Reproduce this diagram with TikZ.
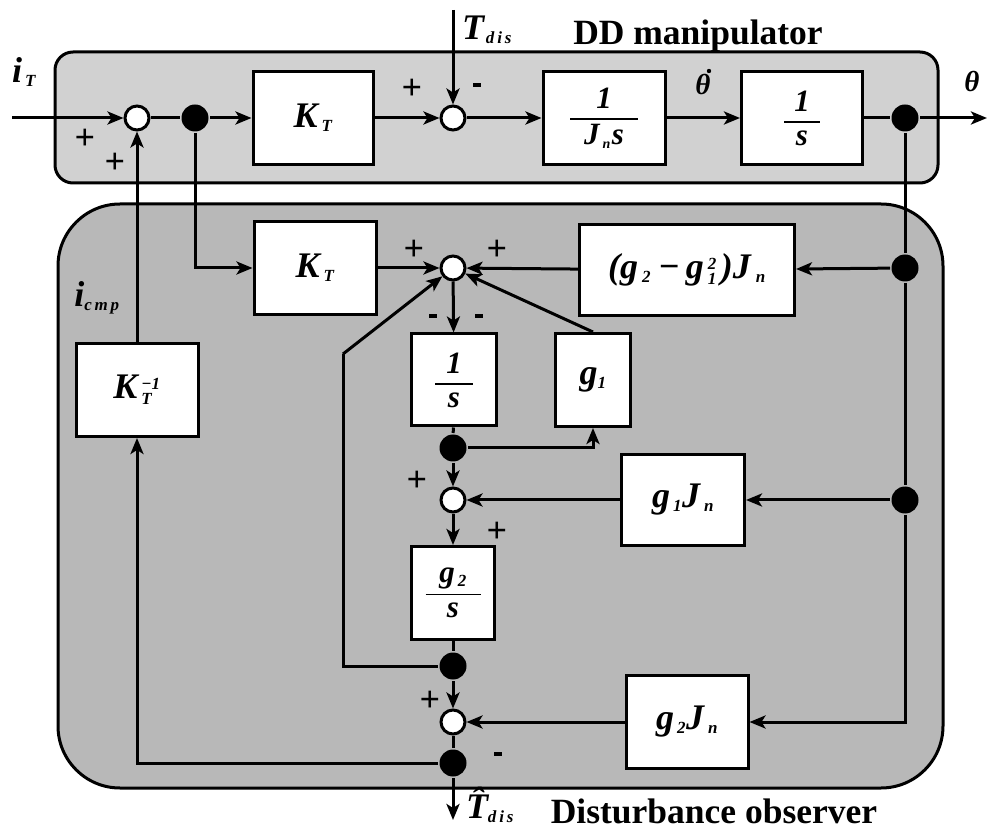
\documentclass[tikz,border=0pt]{standalone}
\usepackage{amsmath}
\usepackage{fontspec}
\setmainfont{Liberation Serif}
\usetikzlibrary{arrows.meta,calc}

% small lowered / raised indices in the running text font
\newcommand{\sbs}[2][17]{\ensuremath{_{\mbox{\fontsize{#1}{#1}\selectfont #2}}}}
\newcommand{\sps}[3][17]{\ensuremath{^{\mbox{\fontsize{#1}{#1}\selectfont #2}}_{\mbox{\fontsize{#1}{#1}\selectfont #3}}}}
% fraction with a fixed-width bar
\newcommand{\frc}[3]{\ensuremath{\genfrac{}{}{1.6pt}{0}{\hbox to #1{\hss\mbox{#2}\hss}}{\mbox{#3}}}}

\begin{document}
\begin{tikzpicture}[x=1pt,y=-1pt,
  line width=3pt,
  every node/.style={font=\fontsize{36}{38}\selectfont\bfseries\itshape},
  blk/.style={draw, fill=white, inner sep=0pt, line width=3pt},
  sumc/.style={circle, draw, fill=white, minimum size=24pt, inner sep=0pt, line width=3pt},
  jdot/.style={circle, fill=black, minimum size=27pt, inner sep=0pt},
  sig/.style={-{Stealth[length=16pt,width=13pt,inset=4pt]}},
  sgn/.style={font=\fontsize{36}{36}\selectfont\bfseries, inner sep=0pt},
  neg/.style={inner sep=0pt},
  frac/.style={font=\fontsize{31}{33}\selectfont\bfseries\itshape},
  title/.style={font=\fontsize{35.5}{38}\selectfont\bfseries, anchor=base},
]
\useasboundingbox (0,0) rectangle (989,834);

% panels
\draw[line width=3pt, fill=black!18, rounded corners=18pt] (55,52) rectangle (938,183);
\draw[line width=3pt, fill=black!28, rounded corners=62pt] (58,204) rectangle (943,788);

% ---- plant (upper panel)
\coordinate (in)   at (12,118);
\coordinate (out)  at (987,118);
\coordinate (tdin) at (453,10);
\node[sumc] (s1) at (137,118) {};
\node[jdot] (d1) at (195,118) {};
\node[blk, minimum width=120pt, minimum height=93pt] (kt1) at (313,118) {K\hspace{4pt}\sbs{T}};
\node[sumc] (s2) at (453,118) {};
\node[blk, minimum width=122pt, minimum height=93pt, frac] (jn) at (604,118) {\frc{68pt}{1}{J\hspace{3pt}\sbs[14]{n}\hspace{1pt}s}};
\node[blk, minimum width=121pt, minimum height=93pt, frac] (ig) at (802,118) {\frc{36pt}{1}{s}};
\node[jdot] (d2) at (905,118) {};

% ---- observer (lower panel)
\node[blk, minimum width=122pt, minimum height=93pt] (kt2) at (315,268) {K\hspace{4pt}\sbs{T}};
\node[blk, minimum width=122pt, minimum height=93pt] (kti) at (137,390) {K\hspace{4pt}\sps{\textminus1}{T}};
\node[sumc] (s3) at (453,268) {};
\node[blk, minimum width=215pt, minimum height=91pt] (g21) at (687,270) {(g\hspace{4pt}\sbs{2}\hspace{7pt}\textminus\hspace{6pt}g\hspace{4pt}\sps{2}{1}\hspace{4pt})J\hspace{5pt}\sbs{n}};
\node[jdot] (d3) at (905,268) {};
\node[blk, minimum width=85pt, minimum height=92pt, frac] (i1) at (454,380) {\frc{38pt}{1}{s}};
\node[blk, minimum width=75pt, minimum height=93pt] (g1) at (593,380) {g\sbs{1}};
\node[jdot] (d4) at (453,448) {};
\node[sumc] (s4) at (453,500) {};
\node[blk, minimum width=123pt, minimum height=90pt] (g1j) at (683,500) {g\hspace{3pt}\sbs{1}J\hspace{4pt}\sbs{n}};
\node[jdot] (d5) at (905,500) {};
\node[blk, minimum width=83pt, minimum height=93pt, frac] (g2s) at (453,593) {\frc{55pt}{g\hspace{3pt}\sbs{2}}{s}};
\node[jdot] (d6) at (453,666) {};
\coordinate (bend) at (343,354);
\node[sumc] (s5) at (453,722) {};
\node[blk, minimum width=122pt, minimum height=93pt] (g2j) at (687,722) {g\hspace{3pt}\sbs{2}J\hspace{4pt}\sbs{n}};
\node[jdot] (d7) at (453,763) {};
\coordinate (tout) at (453,820);

% ---- connectors, plant
\draw[sig] (in) -- (s1);
\draw (s1) -- (d1);
\draw[sig] (d1) -- (kt1);
\draw[sig] (kt1) -- (s2);
\draw[sig] (tdin) -- (s2);
\draw[sig] (s2) -- (jn);
\draw[sig] (jn) -- (ig);
\draw (ig) -- (d2);
\draw[sig] (d2) -- (out);
\draw[sig] (kti) -- (s1);

% ---- connectors, observer
\draw[sig] (d1) |- (kt2);
\draw[sig] (kt2) -- (s3);
\draw (d2) -- (d3);
\draw (d3) -- (d5);
\draw[sig] (d3) -- (g21);
\draw[sig] (g21) -- (s3);
\draw[sig] (s3) -- (i1);
\draw (i1) -- (d4);
\draw[sig] (d4) -| (g1.south);
\draw[sig] (g1.north) -- (s3);
\draw[sig] (d4) -- (s4);
\draw[sig] (d5) -- (g1j);
\draw[sig] (g1j) -- (s4);
\draw[sig] (s4) -- (g2s);
\draw (g2s) -- (d6);
\draw (d6) -| (bend);
\draw[sig] (bend) -- (s3);
\draw[sig] (d6) -- (s5);
\draw[sig] (d5) |- (g2j);
\draw[sig] (g2j) -- (s5);
\draw (s5) -- (d7);
\draw[sig] (d7) -| (kti);
\draw[sig] (d7) -- (tout);

% ---- signal labels
\node at (24,72) {i\hspace{3pt}\sbs{T}};
\node at (487,30) {T\hspace{2pt}\sbs{d\,i\,s}};
\node[font=\fontsize{29}{30}\selectfont\bfseries\itshape] (thd) at (703,85) {θ};
\fill (709,71) circle (2.2pt);
\node[font=\fontsize{29}{30}\selectfont\bfseries\itshape] at (972,82) {θ};
\node at (97,298) {i\sbs{c\,m\,p}};
\node at (490,805) {\^{T}\sbs{d\,i\,s}};

% ---- summing signs
\node[sgn] at (85,139) {+};
\node[sgn] at (115,163) {+};
\node[sgn] at (412,89) {+};
\node[neg] at (477,85) {\rule{8pt}{3.5pt}};
\node[sgn] at (414,250) {+};
\node[sgn] at (497,250) {+};
\node[neg] at (433,316) {\rule{8pt}{3.5pt}};
\node[neg] at (479,316) {\rule{8pt}{3.5pt}};
\node[sgn] at (417,481) {+};
\node[sgn] at (497,532) {+};
\node[sgn] at (430,701) {+};
\node[neg] at (498,754) {\rule{8pt}{3.5pt}};

% ---- panel titles
\node[title] at (698,45) {DD manipulator};
\node[title] at (714,823) {Disturbance observer};
\end{tikzpicture}
\end{document}
